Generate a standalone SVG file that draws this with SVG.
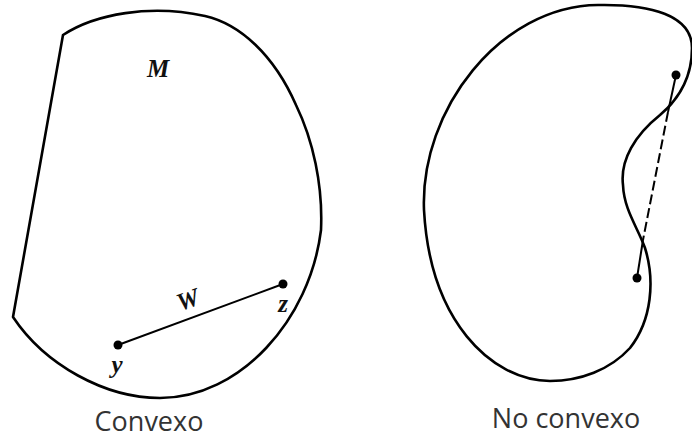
<svg xmlns="http://www.w3.org/2000/svg" width="692" height="438" viewBox="0 0 692 438">
<style>
.shape{fill:none;stroke:#000;stroke-width:2.6;stroke-linejoin:round}
.seg{stroke:#000;stroke-width:2;fill:none}
.dot{fill:#000}
.lbl{font-family:"Liberation Serif",serif;font-style:italic;font-weight:bold;font-size:25px;fill:#111}
.cap{font-family:"Open Sans","Liberation Sans",sans-serif;font-size:27px;fill:#333;text-anchor:middle}
</style>
<rect width="692" height="438" fill="#fff"/>
<g id="convex">
<path class="shape" d="M63,35 C95,14 150,4 205,16 C240,24 274,55 296,105 C313,140 323,185 321,230 C310,320 240,398 160,398 C105,398 45,365 13,317 Z"/>
<text class="lbl" x="158" y="77" text-anchor="middle">M</text>
<text class="cap" x="149" y="431">Convexo</text>
</g>
<g id="nonconvex">
<path class="shape" d="M598,5 C650,4 692,15 692,48 C692,75 680,98 660,115 C635,135 620,160 623,185 C624,210 638,228 645,248 C655,280 652,320 630,348 C610,370 580,381 550,381 C490,380 430,320 424,210 C420,110 500,6 598,5 Z"/>
<text class="cap" x="566" y="428">No convexo</text>
</g>
<g id="connectors">
<line class="seg" x1="118" y1="345" x2="283" y2="284"/>
<circle class="dot" cx="118" cy="345" r="4.5"/>
<circle class="dot" cx="283" cy="284" r="4.5"/>
<text class="lbl" x="188" y="308" text-anchor="middle" font-style="normal" font-size="23" transform="rotate(-20 188 300)">W</text>
<text class="lbl" x="283" y="312" text-anchor="middle">z</text>
<text class="lbl" x="117" y="373" text-anchor="middle">y</text>
<line class="seg" x1="676" y1="75" x2="668" y2="112"/>
<line class="seg" x1="668" y1="112" x2="643" y2="240" stroke-dasharray="10 4"/>
<line class="seg" x1="643" y1="240" x2="637" y2="278"/>
<circle class="dot" cx="676" cy="75" r="4.5"/>
<circle class="dot" cx="637" cy="278" r="4.5"/>
</g>
</svg>
